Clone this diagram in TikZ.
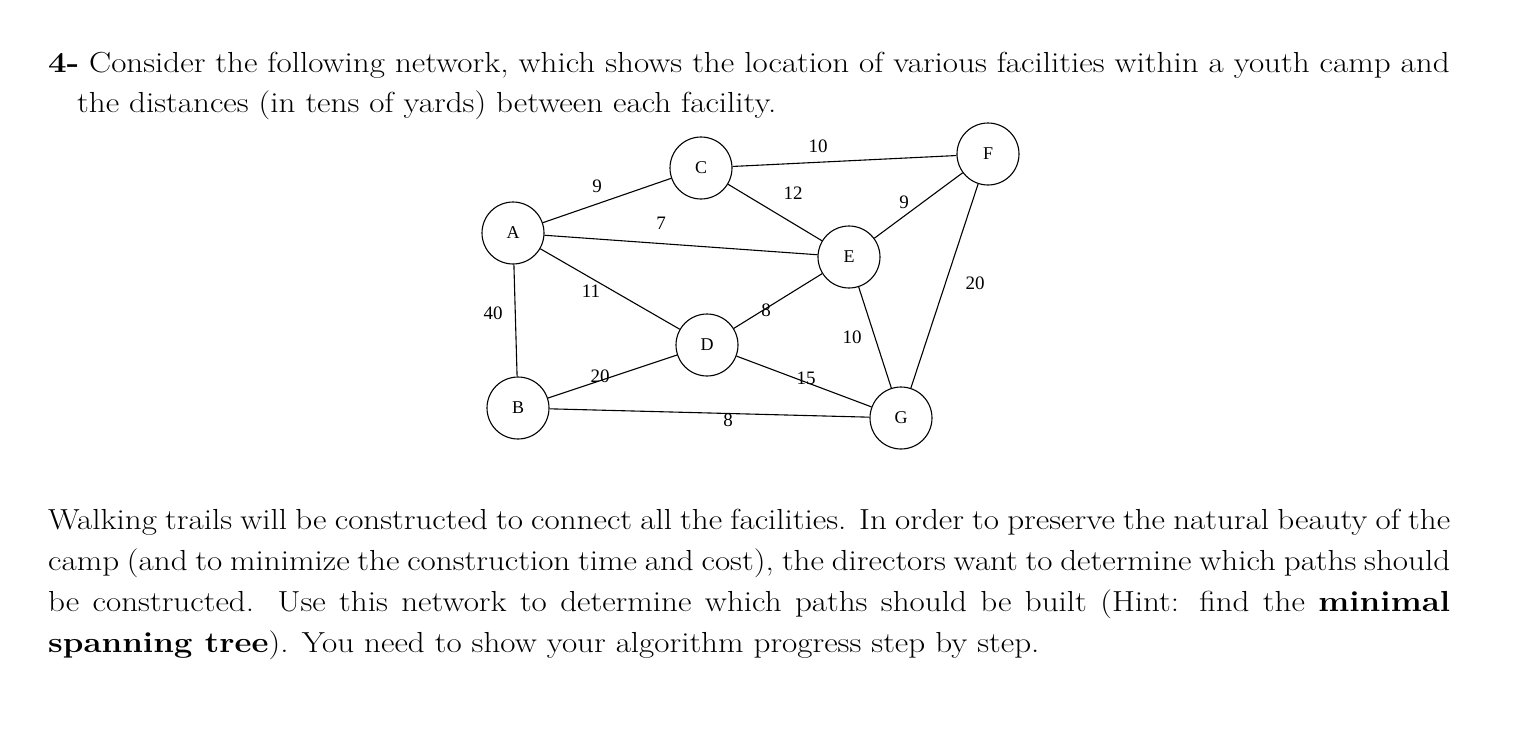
\documentclass[tikz,border=0pt]{standalone}
\usepackage{fontspec}
\setmainfont{Latin Modern Roman}[FakeStretch=1.14]
\newfontfamily\tms{Liberation Serif}
\begin{document}
\begin{tikzpicture}[x=1pt,y=-1pt,
  v/.style={circle,draw,line width=1.1pt,minimum size=62pt,inner sep=0pt,font=\tms\fontsize{18}{18}\selectfont},
  e/.style={line width=1.1pt},
  w/.style={font=\tms\fontsize{19}{19}\selectfont,inner sep=0pt}]
\useasboundingbox (0,0) rectangle (1524,736);
\fill[white] (0,0) rectangle (1524,736);
\node[anchor=base west,inner sep=0pt,font=\fontsize{29}{34}\selectfont] (t1) at (48,72) {\textbf{4-} Consider the following network, which shows the location of various facilities within a youth camp and};
\node[anchor=base west,inner sep=0pt,font=\fontsize{29}{34}\selectfont] (t2) at (77,112) {the distances (in tens of yards) between each facility.};
\node (A) [v] at (513,233) {A};
\node (C) [v] at (701,168) {C};
\node (F) [v] at (988,154) {F};
\node (E) [v] at (849,257) {E};
\node (D) [v] at (707,345) {D};
\node (B) [v] at (518,408) {B};
\node (G) [v] at (901,418) {G};
\draw[e] (A)--(C); \draw[e] (C)--(F); \draw[e] (C)--(E); \draw[e] (A)--(E);
\draw[e] (E)--(F); \draw[e] (A)--(D); \draw[e] (A)--(B); \draw[e] (D)--(E);
\draw[e] (B)--(D); \draw[e] (D)--(G); \draw[e] (E)--(G); \draw[e] (F)--(G);
\draw[e] (B)--(G);
\node[w] (l1) at (597,186) {9};
\node[w] (l2) at (818,146) {10};
\node[w] (l3) at (793,193) {12};
\node[w] (l4) at (904,202) {9};
\node[w] (l5) at (661,223) {7};
\node[w] (l6) at (591,291) {11};
\node[w] (l7) at (493,313) {40};
\node[w] (l8) at (600,376) {20};
\node[w] (l9) at (766,310) {8};
\node[w] (l10) at (852,337) {10};
\node[w] (l11) at (806,378) {15};
\node[w] (l12) at (728,420) {8};
\node[w] (l13) at (975,283) {20};
\node[anchor=north west,inner sep=0pt,text width=1402pt,align=justify,font=\fontsize{29}{41}\selectfont] (p) at (48,509) {Walking trails will be constructed to connect all the facilities. In order to preserve the natural beauty of the\linebreak camp (and to minimize the construction time and cost), the directors want to determine which paths should\linebreak be constructed. Use this network to determine which paths should be built (Hint: find the \textbf{minimal}\linebreak \textbf{spanning tree}). You need to show your algorithm progress step by step.};
\end{tikzpicture}
\end{document}
